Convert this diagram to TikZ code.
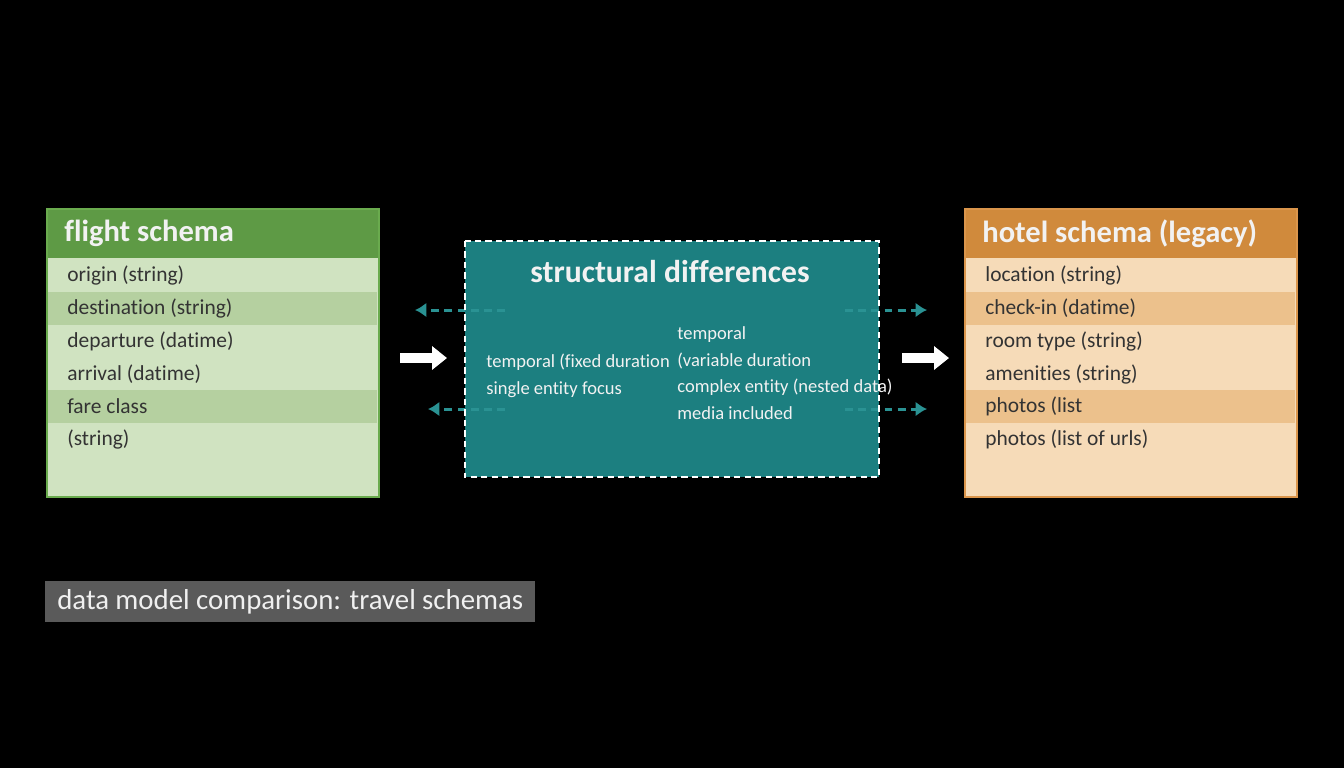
\documentclass[tikz,border=0pt]{standalone}
\usepackage{fontspec}
\setmainfont{Carlito}[Ligatures=NoCommon]
\usetikzlibrary{arrows.meta}
\definecolor{fhead}{HTML}{5E9A45}
\definecolor{flight}{HTML}{D0E3C1}
\definecolor{fdark}{HTML}{B5D0A0}
\definecolor{fedge}{HTML}{6AAB4E}
\definecolor{hhead}{HTML}{D08A3C}
\definecolor{hlight}{HTML}{F6DBB8}
\definecolor{hdark}{HTML}{ECC18C}
\definecolor{hedge}{HTML}{DA954B}
\definecolor{diffteal}{HTML}{1C7F80}
\definecolor{dashteal}{HTML}{2A9293}
\definecolor{capgray}{HTML}{5A5A5A}
\definecolor{rowtext}{HTML}{333333}

\begin{document}
\begin{tikzpicture}[x=0.02cm,y=-0.02cm,
    frame/.style={anchor=north west,minimum width=6.62cm,minimum height=5.74cm,inner sep=0pt},
    hdr/.style={anchor=north west,minimum width=6.62cm,minimum height=0.98cm,inner xsep=0.34cm,
        text width=5.94cm,align=flush left,text=white!95!black,font=\fontsize{17.4}{20}\selectfont\bfseries},
    row/.style={anchor=west,minimum width=6.58cm,minimum height=0.66cm,inner xsep=0.38cm,
        text width=5.82cm,align=flush left,text=rowtext,font=\fontsize{12.2}{14}\selectfont},
    difftext/.style={text=white!95!black,align=flush left,inner sep=0pt,font=\fontsize{10.55}{15.2}\selectfont},
    dasharrow/.style={dashteal,line width=1.7pt,dash pattern=on 4.5pt off 3pt,-{Latex[length=6.5pt,width=8.5pt]}},
    bigarrow/.style={white,line width=5.5pt,-{Triangle[length=8.5pt,width=13pt]}}]
\fill[black] (0,0) rectangle (1344,768);

\node[frame,fill=flight] (flight) at (47,209) {};
\node[hdr,fill=fhead] (fhdr) at (47,209) {flight schema};
\node[row] (f1) at (48,275) {origin (string)};
\node[row,fill=fdark] (f2) at (48,308.5) {destination (string)};
\node[row] (f3) at (48,341) {departure (datime)};
\node[row] (f4) at (48,374) {arrival (datime)};
\node[row,fill=fdark] (f5) at (48,406.5) {fare class};
\node[row] (f6) at (48,439) {(string)};
\draw[fedge,line width=1.2pt] (flight.north west) rectangle (flight.south east);

\node[frame,fill=hlight] (hotel) at (965,209) {};
\node[hdr,fill=hhead] (hhdr) at (965,209) {hotel schema (legacy)};
\node[row] (h1) at (966,275) {location (string)};
\node[row,fill=hdark] (h2) at (966,308.5) {check-in (datime)};
\node[row] (h3) at (966,341) {room type (string)};
\node[row] (h4) at (966,374) {amenities (string)};
\node[row,fill=hdark] (h5) at (966,406.5) {photos (list};
\node[row] (h6) at (966,439) {photos (list of urls)};
\draw[hedge,line width=1.2pt] (hotel.north west) rectangle (hotel.south east);

\node[fill=diffteal,minimum width=8.28cm,minimum height=4.72cm,inner sep=0pt] (diff) at (672,359) {};
\node[text=white!95!black,font=\fontsize{18}{20}\selectfont\bfseries] (difftitle) at (670,272) {structural differences};
\node[difftext,anchor=west] (dleft) at (486,375.5) {temporal (fixed duration\\single entity focus};
\node[difftext,anchor=west] (dright) at (677,373) {temporal\\(variable duration\\complex entity (nested data)\\media included};

\coordinate (dl1s) at (505,310);
\coordinate (dl1e) at (415,310);
\coordinate (dl2s) at (505,409);
\coordinate (dl2e) at (428,409);
\coordinate (dr1s) at (845,310);
\coordinate (dr1e) at (927,310);
\coordinate (dr2s) at (845,409);
\coordinate (dr2e) at (927,409);
\draw[dasharrow] (dl1s) -- (dl1e);
\draw[dasharrow] (dl2s) -- (dl2e);
\draw[dasharrow] (dr1s) -- (dr1e);
\draw[dasharrow] (dr2s) -- (dr2e);
\draw[white,line width=1.1pt,dash pattern=on 3.6pt off 2.4pt] (diff.north west) rectangle (diff.south east);

\coordinate (wl1) at (400,358);
\coordinate (wl2) at (447,358);
\coordinate (wr1) at (902,358);
\coordinate (wr2) at (949,358);
\draw[bigarrow] (wl1) -- (wl2);
\draw[bigarrow] (wr1) -- (wr2);

\node[fill=capgray,anchor=west,minimum width=9.8cm,minimum height=0.82cm,inner xsep=0.24cm,
    text width=9.32cm,align=flush left,text=white!94!black,font=\fontsize{16.4}{18}\selectfont] (caption) at (45,601.5)
    {data model comparison: travel schemas};
\end{tikzpicture}
\end{document}
